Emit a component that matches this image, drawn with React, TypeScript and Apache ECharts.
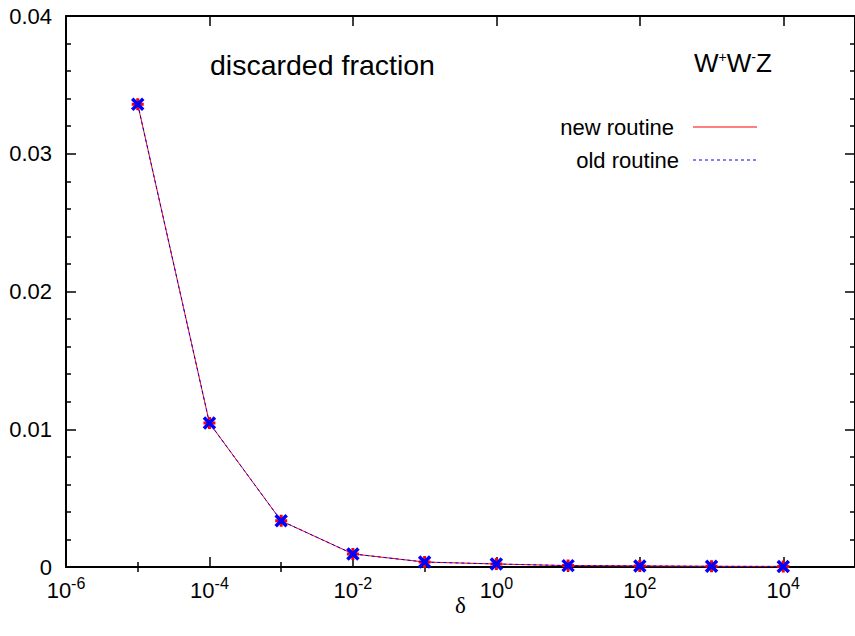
import React, { useEffect, useRef } from "react";
import * as echarts from "echarts";

const deltas = [1e-5, 1e-4, 1e-3, 1e-2, 1e-1, 1, 10, 100, 1000, 1e4];
const newRoutine = [0.0336, 0.01045, 0.00335, 0.00095, 0.00036, 0.00022, 0.0001, 0.00008, 0.00005, 0.00004];
const oldRoutine = [0.0336, 0.01045, 0.00335, 0.00095, 0.00036, 0.00022, 0.0001, 0.00008, 0.00005, 0.00004];
const majorTicks = [1e-6, 1e-4, 1e-2, 1, 1e2, 1e4];
const minorTicks = [1e-5, 1e-3, 1e-1, 10, 1e3];
const yTickLabels = ["0", "0.01", "0.02", "0.03", "0.04"];
const titleText = "discarded fraction";
const processText = "W{s|+}W{s|-}Z";
const legendNames = ["new routine", "old routine"];

const FONT = "'Liberation Sans', Arial, sans-serif";

export default function App() {
  const ref = useRef<HTMLDivElement>(null);
  useEffect(() => {
    if (!ref.current) return;
    const chart = echarts.init(ref.current, null, { renderer: "svg" });
    const xBase = {
      type: "log",
      logBase: 10,
      min: 1e-6,
      max: 1e5,
      gridIndex: 0,
      splitLine: { show: false },
      axisLine: { show: true, onZero: false, lineStyle: { color: "#000", width: 2 } },
    };
    const xAxis = [
      {
        ...xBase,
        position: "bottom",
        axisTick: { show: true, inside: true, length: 10, customValues: majorTicks, lineStyle: { color: "#000", width: 1.5 } },
        axisLabel: {
          show: true,
          customValues: majorTicks,
          margin: 8,
          color: "#000",
          fontFamily: FONT,
          fontSize: 22,
          lineHeight: 30,
          formatter: (v: number) => "10{s|" + Math.round(Math.log10(v)) + "}",
          rich: { s: { fontSize: 16, lineHeight: 16, verticalAlign: "top", fontFamily: FONT, color: "#000" } },
        },
        name: "δ",
        nameLocation: "middle",
        nameGap: 27,
        nameMoveOverlap: false,
        nameTextStyle: { fontFamily: "'Liberation Serif', 'DejaVu Serif', serif", fontSize: 23, color: "#000" },
      },
      {
        ...xBase,
        position: "bottom",
        axisLine: { show: false },
        axisTick: { show: true, inside: true, length: 5, customValues: minorTicks, lineStyle: { color: "#000", width: 1.5 } },
        axisLabel: { show: false },
      },
      {
        ...xBase,
        position: "top",
        axisTick: { show: true, inside: true, length: 10, customValues: majorTicks, lineStyle: { color: "#000", width: 1.5 } },
        axisLabel: { show: false },
      },
      {
        ...xBase,
        position: "top",
        axisLine: { show: false },
        axisTick: { show: true, inside: true, length: 5, customValues: minorTicks, lineStyle: { color: "#000", width: 1.5 } },
        axisLabel: { show: false },
      },
    ];
    const yBase = {
      type: "value",
      min: 0,
      max: 0.04,
      interval: 0.01,
      splitLine: { show: false },
      axisLine: { show: true, onZero: false, lineStyle: { color: "#000", width: 2 } },
      axisTick: { show: true, inside: true, length: 10, lineStyle: { color: "#000", width: 1.5 } },
      minorTick: { show: true, splitNumber: 5, length: 5, lineStyle: { color: "#000", width: 1.5 } },
    };
    const yAxis = [
      {
        ...yBase,
        position: "left",
        axisLabel: {
          color: "#000",
          fontFamily: FONT,
          fontSize: 22,
          margin: 14,
          formatter: (v: number) => yTickLabels[Math.round(v / 0.01)] ?? "",
        },
      },
      { ...yBase, position: "right", axisLabel: { show: false } },
    ];

    const plusSym = "path://M5,0L5,10M0,5L10,5";
    const crossSym = "path://M0,0L10,10M10,0L0,10";

    const option = {
      animation: false,
      backgroundColor: "#fff",
      grid: { left: 66, top: 16, width: 791, bottom: 69, containLabel: false },
      xAxis,
      yAxis,
      series: [
        {
          name: legendNames[0],
          type: "line",
          xAxisIndex: 0,
          yAxisIndex: 0,
          data: deltas.map((d, i) => [d, newRoutine[i]]),
          lineStyle: { color: "#ff0000", width: 1 },
          symbol: plusSym,
          symbolSize: 12,
          itemStyle: { color: "none", borderColor: "#ff0000", borderWidth: 3 },
          z: 3,
        },
        {
          name: legendNames[1],
          type: "line",
          xAxisIndex: 0,
          yAxisIndex: 0,
          data: deltas.map((d, i) => [d, oldRoutine[i]]),
          lineStyle: { color: "#0000ff", width: 1, type: [3, 3] },
          symbol: crossSym,
          symbolSize: 11,
          itemStyle: { color: "none", borderColor: "#0000ff", borderWidth: 3.5 },
          z: 4,
        },
      ],
      graphic: [
        {
          type: "text",
          left: 210,
          top: 50,
          style: { text: titleText, fontFamily: FONT, fontSize: 28.5, fill: "#000" },
        },
        {
          type: "text",
          left: 694,
          top: 50,
          style: {
            text: processText,
            fontFamily: FONT,
            fontSize: 26,
            fill: "#000",
            rich: { s: { fontSize: 14, verticalAlign: "top", lineHeight: 14, fontFamily: FONT, fill: "#000" } },
          },
        },
        {
          type: "text",
          x: 674,
          y: 127,
          style: { text: legendNames[0], fontFamily: FONT, fontSize: 22, fill: "#000", align: "right", verticalAlign: "middle" },
        },
        {
          type: "line",
          shape: { x1: 693, y1: 127, x2: 757, y2: 127 },
          style: { stroke: "#ff0000", lineWidth: 1.2 },
        },
        {
          type: "text",
          x: 679,
          y: 160,
          style: { text: legendNames[1], fontFamily: FONT, fontSize: 22, fill: "#000", align: "right", verticalAlign: "middle" },
        },
        {
          type: "line",
          shape: { x1: 693, y1: 160, x2: 757, y2: 160 },
          style: { stroke: "#0000ff", lineWidth: 1.2, lineDash: [3, 3] },
        },
      ],
    };
    chart.setOption(option as any);
    return () => chart.dispose();
  }, []);
  return <div ref={ref} style={{ width: 855, height: 636, position: "absolute", left: 0, top: 0 }} />;
}
